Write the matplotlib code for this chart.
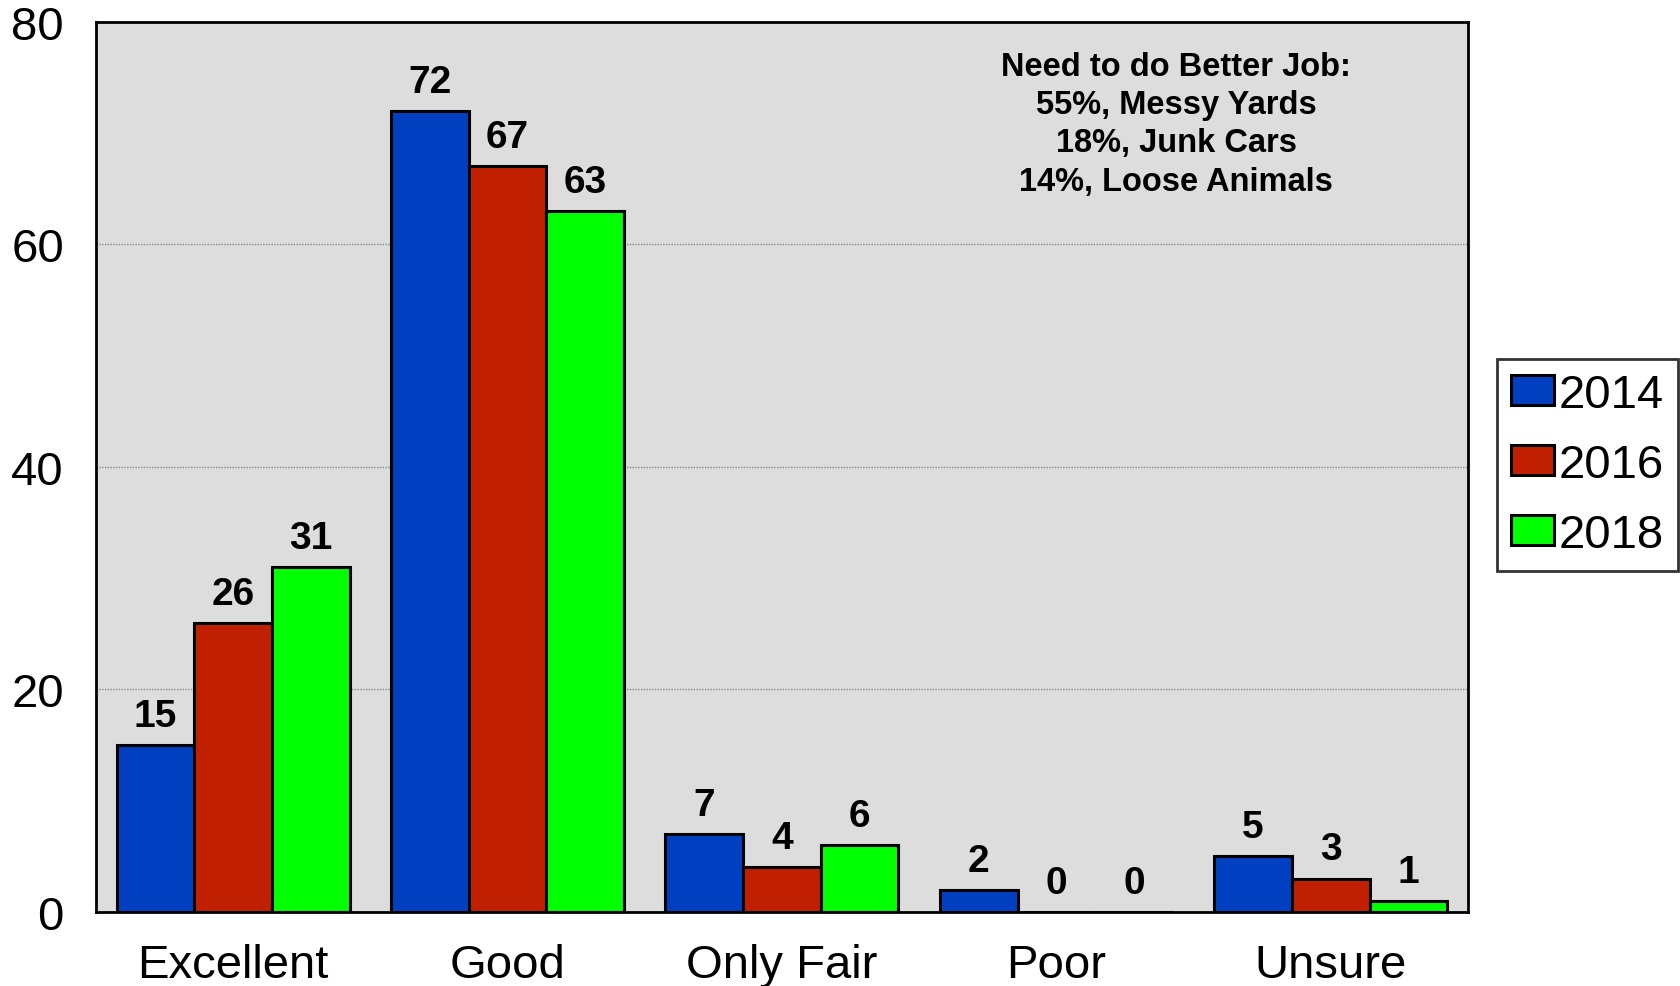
import matplotlib
matplotlib.use("Agg")
import matplotlib.pyplot as plt
import numpy as np

# Survey results by year (percent)
categories = ["Excellent", "Good", "Only Fair", "Poor", "Unsure"]
years = ["2014", "2016", "2018"]
vals_2014 = [15, 72, 7, 2, 5]
vals_2016 = [26, 67, 4, 0, 3]
vals_2018 = [31, 63, 6, 0, 1]
note_lines = ["Need to do Better Job:", "55%, Messy Yards",
              "18%, Junk Cars", "14%, Loose Animals"]

colors = ["#0040C0", "#C02000", "#00FF00"]

plt.rcParams["font.family"] = ["Liberation Sans", "DejaVu Sans"]

fig = plt.figure(figsize=(16.8, 9.87), dpi=100)
ax = fig.add_axes([0.0571, 0.075, 0.8167, 0.902])
ax.set_facecolor("#DDDDDD")

x = np.arange(len(categories))
w = 0.283
series = [vals_2014, vals_2016, vals_2018]
for i, (vals, col, yr) in enumerate(zip(series, colors, years)):
    pos = x + (i - 1) * w
    bars = ax.bar(pos, vals, w, color=col, edgecolor="black", linewidth=2.2,
                  label=yr, zorder=3)
    for b, v in zip(bars, vals):
        ax.text(b.get_x() + b.get_width() / 2, v + 1.0, str(v),
                ha="center", va="bottom", fontsize=28, fontweight="bold",
                zorder=4)

ax.set_xlim(-0.5, len(categories) - 0.5)
ax.set_ylim(0, 80)
ax.set_yticks([0, 20, 40, 60, 80])
ax.set_xticks(x)
ax.set_xticklabels(categories)
ax.tick_params(axis="both", length=0, labelsize=34)
ax.tick_params(axis="y", pad=23)
ax.tick_params(axis="x", pad=22)
ax.yaxis.grid(True, color="#888888", linestyle=(0, (1, 1)), linewidth=1, zorder=0)
for s in ax.spines.values():
    s.set_color("black")
    s.set_linewidth(2)

ax.text(0.7875, 0.967, "\n".join(note_lines), transform=ax.transAxes,
        ha="center", va="top", fontsize=23.5, fontweight="bold",
        linespacing=1.3)

leg = fig.legend(loc="center left", bbox_to_anchor=(0.891, 0.528),
                 fontsize=34, frameon=True, fancybox=False,
                 handlelength=0.9, handleheight=0.6, handletextpad=0.1,
                 borderpad=0.3, labelspacing=0.55, borderaxespad=0)
leg.get_frame().set_edgecolor("black")
leg.get_frame().set_linewidth(2)

fig.savefig("out.png", dpi=100)
